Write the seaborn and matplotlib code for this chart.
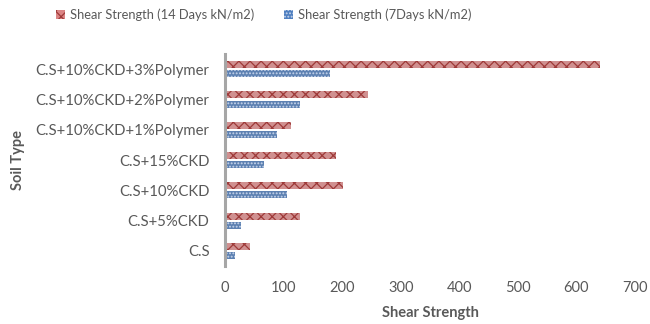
import matplotlib
matplotlib.use("Agg")
import matplotlib.pyplot as plt
from matplotlib.patches import Patch
import seaborn as sns
import pandas as pd

soil_types = [
    "C.S+10%CKD+3%Polymer",
    "C.S+10%CKD+2%Polymer",
    "C.S+10%CKD+1%Polymer",
    "C.S+15%CKD",
    "C.S+10%CKD",
    "C.S+5%CKD",
    "C.S",
]
strength_14d = [640, 244, 112, 189, 201, 128, 43]
strength_7d = [180, 129, 89, 67, 106, 27, 17]
series_names = ["Shear Strength (14 Days kN/m2)", "Shear Strength (7Days kN/m2)"]
x_ticks = [0, 100, 200, 300, 400, 500, 600, 700]

df = pd.DataFrame({
    "Soil Type": soil_types * 2,
    "Shear Strength": strength_14d + strength_7d,
    "Series": [series_names[0]] * len(soil_types) + [series_names[1]] * len(soil_types),
})

sns.set_theme(style="white")
plt.rcParams["font.family"] = ["Lato", "DejaVu Sans"]
plt.rcParams["hatch.linewidth"] = 0.9

fill_colors = {series_names[0]: "#DB8585", series_names[1]: "#4F7FC0"}
hatch_colors = {series_names[0]: "#9E3A39", series_names[1]: "#C9D6EC"}
hatches = {series_names[0]: "xxx", series_names[1]: "....."}

fig = plt.figure(figsize=(6.5, 3.24), dpi=100)
ax = fig.add_axes([0.346, 0.179, 0.631, 0.654])

sns.barplot(data=df, y="Soil Type", x="Shear Strength", hue="Series",
            order=soil_types, hue_order=series_names, orient="h",
            palette=fill_colors, width=0.6, ax=ax, legend=False)

# thin each bar around its own centre and apply the pattern fills
bar_h = 0.23
for container, name in zip(ax.containers, series_names):
    for patch in container.patches:
        cy = patch.get_y() + patch.get_height() / 2
        patch.set_y(cy - bar_h / 2)
        patch.set_height(bar_h)
        patch.set_hatch(hatches[name])
        patch.set_edgecolor(hatch_colors[name])
        patch.set_linewidth(0)

ax.set_xlim(0, 700)
ax.set_xticks(x_ticks)
ax.set_xticklabels([str(t) for t in x_ticks])
ax.set_ylim(len(soil_types) - 0.5, -0.5)

for side in ["top", "right", "bottom"]:
    ax.spines[side].set_visible(False)
ax.spines["left"].set_color("#A6A6A6")
ax.spines["left"].set_linewidth(2.2)

label_color = "#595959"
ax.tick_params(axis="y", length=0, pad=11, labelsize=10.7, labelcolor=label_color)
ax.tick_params(axis="x", length=0, pad=11, labelsize=10.5, labelcolor=label_color)
ax.set_xlabel("Shear Strength", fontsize=10.5, fontweight="bold", color=label_color, labelpad=8)
ax.set_ylabel("Soil Type", fontsize=10.5, fontweight="bold", color=label_color, labelpad=8)

handles = [Patch(facecolor=fill_colors[n], edgecolor=hatch_colors[n], hatch=hatches[n], linewidth=0)
           for n in series_names]
fig.legend(handles, series_names, loc="center", bbox_to_anchor=(264 / 650, 1 - 15 / 324),
           ncol=2, frameon=False, fontsize=9.3, labelcolor=label_color,
           handlelength=0.7, handleheight=0.7, handletextpad=0.4, columnspacing=2.3)

fig.savefig("out.png", dpi=100)
